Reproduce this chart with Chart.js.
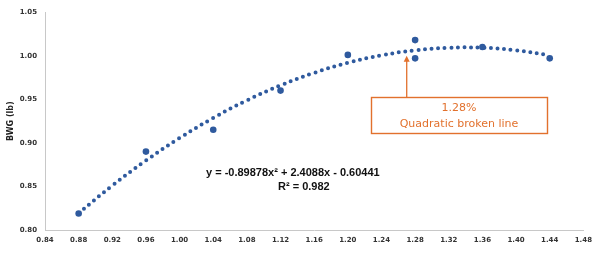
<!DOCTYPE html>
<html>
<head>
<meta charset="utf-8">
<script src="https://cdn.jsdelivr.net/npm/chart.js@4.4.0/dist/chart.umd.min.js"></script>
<style>
  html, body { margin: 0; padding: 0; background: #fff; }
  #wrap { width: 598px; height: 253px; }
</style>
</head>
<body>
<div id="wrap"><canvas id="bwgChart" width="598" height="253"></canvas></div>
<script>
// observed points (lysine level, BWG)
const obsX = [0.88, 0.96, 1.04, 1.12, 1.20, 1.28, 1.28, 1.36, 1.44];
const obsY = [0.819, 0.890, 0.915, 0.960, 1.001, 1.018, 0.997, 1.010, 0.997];

// quadratic trend (y = -0.89878x² + 2.4088x - 0.60441)
const trendX = [0.88, 0.92, 0.96, 1.00, 1.04, 1.08, 1.12, 1.16, 1.20, 1.24, 1.28, 1.32, 1.36, 1.40, 1.44];
const trendY = [0.8193, 0.8510, 0.8797, 0.9056, 0.9286, 0.9488, 0.9660, 0.9804, 0.9919, 1.0005, 1.0063, 1.0092, 1.0092, 1.0063, 1.0006];

const xTicks = { min: 0.84, max: 1.48, step: 0.04 };
const yTicks = { min: 0.80, max: 1.05, step: 0.05 };

const blue = '#2F5A9E';
const orange = '#E2712D';

const toPts = (xs, ys) => xs.map((x, i) => ({ x: x, y: ys[i] }));

// texte et annotation
const notes = {
  id: 'notes',
  afterDraw(chart) {
    const c = chart.ctx;
    const xs = chart.scales.x, ys = chart.scales.y;
    c.save();
    c.fillStyle = '#111';
    c.font = 'bold 11px "Liberation Sans", Arial, sans-serif';
    c.textAlign = 'left';
    c.textBaseline = 'middle';
    c.fillText('y = -0.89878x² + 2.4088x - 0.60441', 206, 173);
    c.fillText('R² = 0.982', 278, 187);

    // box
    c.strokeStyle = orange;
    c.lineWidth = 1.4;
    c.strokeRect(371.5, 97.5, 176, 36);
    c.fillStyle = orange;
    c.textAlign = 'center';
    c.font = '11px "DejaVu Sans", sans-serif';
    c.fillText('1.28%', 459, 108);
    c.fillText('Quadratic broken line', 459, 124);

    // arrow
    const ax = xs.getPixelForValue(1.27);
    const ay = ys.getPixelForValue(1.0);
    c.beginPath();
    c.moveTo(ax, 97);
    c.lineTo(ax, ay + 4);
    c.lineWidth = 1.3;
    c.stroke();
    c.beginPath();
    c.moveTo(ax, ay);
    c.lineTo(ax - 3, ay + 6);
    c.lineTo(ax + 3, ay + 6);
    c.closePath();
    c.fill();
    c.restore();
  }
};

const tickFont = { family: '"DejaVu Sans", sans-serif', size: 7, weight: 'bold' };

const config = {
  type: 'scatter',
  data: {
    datasets: [
      {
        label: 'trend',
        data: toPts(trendX, trendY),
        showLine: true,
        borderColor: blue,
        borderWidth: 4,
        borderDash: [0, 6.6],
        borderCapStyle: 'round',
        tension: 0.4,
        pointRadius: 0,
        fill: false
      },
      {
        label: 'BWG',
        data: toPts(obsX, obsY),
        backgroundColor: blue,
        borderColor: blue,
        pointRadius: 3.3,
        borderWidth: 0
      }
    ]
  },
  options: {
    responsive: false,
    animation: false,
    layout: { padding: { left: 0, right: 13, top: 10, bottom: 0 } },
    plugins: { legend: { display: false }, tooltip: { enabled: false } },
    scales: {
      x: {
        type: 'linear',
        min: xTicks.min,
        max: xTicks.max,
        afterFit: s => { s.height = 23; },
        afterBuildTicks: s => {
          const t = [];
          for (let v = xTicks.min; v <= xTicks.max + 1e-9; v += xTicks.step) t.push({ value: +v.toFixed(2) });
          s.ticks = t;
        },
        ticks: { font: tickFont, color: '#333', padding: 6, callback: v => v.toFixed(2), maxRotation: 0, autoSkip: false },
        grid: { display: false, drawTicks: false },
        border: { color: '#C8C8C8', width: 1 }
      },
      y: {
        min: yTicks.min,
        max: yTicks.max,
        afterFit: s => { s.width = 45; },
        ticks: { font: tickFont, color: '#333', padding: 8, stepSize: yTicks.step, callback: v => v.toFixed(2) },
        grid: { display: false, drawTicks: false },
        border: { color: '#C8C8C8', width: 1 },
        title: { display: true, text: 'BWG (lb)', font: { family: '"DejaVu Sans", sans-serif', size: 8, weight: 'bold' }, color: '#222', padding: { top: 6, bottom: 0 } }
      }
    }
  },
  plugins: [notes]
};

const ctx = document.getElementById('bwgChart').getContext('2d');
new Chart(ctx, config);
</script>
</body>
</html>
